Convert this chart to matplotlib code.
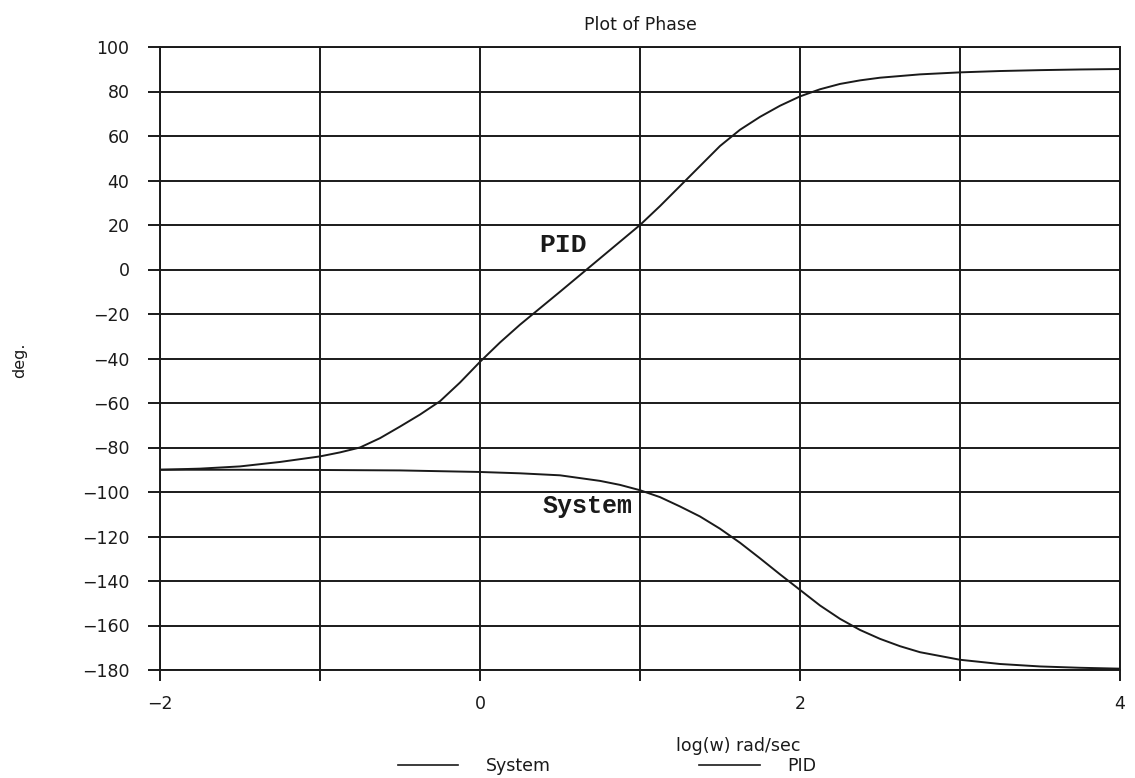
import matplotlib
matplotlib.use("Agg")
import matplotlib.pyplot as plt
from matplotlib.lines import Line2D

# PID phase (log(w), degrees)
pid_x = [-2, -1.75, -1.5, -1.25, -1, -0.875, -0.75, -0.625, -0.5, -0.375,
         -0.25, -0.125, 0, 0.125, 0.25, 0.5, 0.75, 1, 1.125, 1.25, 1.375,
         1.5, 1.625, 1.75, 1.875, 2, 2.125, 2.25, 2.375, 2.5, 2.75, 3, 3.25,
         3.5, 3.75, 4]
pid_phase = [-90, -89.5, -88.5, -86.5, -84, -82.2, -80, -75.8, -70.6, -65.2,
             -59.2, -50.8, -41.5, -32.8, -24.8, -10, 5, 20, 28.5, 37.5, 46.5,
             55.5, 62.8, 68.6, 73.6, 77.8, 81, 83.4, 85, 86.2, 87.7, 88.6,
             89.2, 89.6, 89.9, 90.1]

# System phase
sys_x = [-2, -1.5, -1, -0.5, 0, 0.25, 0.5, 0.75, 0.875, 1, 1.125, 1.25,
         1.375, 1.5, 1.625, 1.75, 1.875, 2, 2.125, 2.25, 2.375, 2.5, 2.625,
         2.75, 3, 3.25, 3.5, 3.75, 4]
system_phase = [-90, -90, -90.1, -90.3, -91, -91.6, -92.5, -95, -96.8, -99.2,
                -102.3, -106.5, -111, -116.5, -122.8, -129.8, -137, -144,
                -151, -157, -162, -166, -169.3, -172, -175.4, -177.3, -178.4,
                -179, -179.4]

x_ticks = [-2, -1, 0, 1, 2, 3, 4]
x_labels = ['\u22122', '', '0', '', '2', '', '4']
y_ticks = list(range(-180, 101, 20))

ink = '#1a1a1a'
fs = 12.5

fig = plt.figure(figsize=(11.35, 7.78), dpi=100)
ax = fig.add_axes([160 / 1135, 1 - 670 / 778, 960 / 1135, 623 / 778])

ax.plot(sys_x, system_phase, color=ink, lw=1.4)
ax.plot(pid_x, pid_phase, color=ink, lw=1.4)

ax.set_xlim(-2, 4)
ax.set_ylim(-180, 100)
ax.set_xticks(x_ticks)
ax.set_xticklabels(x_labels)
ax.set_yticks(y_ticks)
ax.set_yticklabels([str(v).replace('-', '\u2212') for v in y_ticks])
ax.grid(True, color=ink, lw=1.4)
for s in ax.spines.values():
    s.set_color(ink)
    s.set_linewidth(1.4)
ax.tick_params(axis='x', direction='out', length=8, width=1.4, pad=10,
               labelsize=fs, colors=ink)
ax.tick_params(axis='y', direction='out', length=9, width=1.4, pad=13,
               labelsize=fs, colors=ink)

# curve labels
ax.text(0.52, 11, 'PID', family='Liberation Mono', fontsize=19,
        fontweight='bold', color=ink, ha='center', va='center')
ax.text(0.67, -106.5, 'System', family='Liberation Mono', fontsize=18,
        fontweight='bold', color=ink, ha='center', va='center')

fig.text(640 / 1135, 1 - 25 / 778, 'Plot of Phase', ha='center', va='center',
         fontsize=fs, color=ink)
fig.text(20 / 1135, 1 - 360 / 778, 'deg.', ha='center', va='center',
         rotation=90, fontsize=fs - 1, color=ink)
fig.text(738 / 1135, 1 - 746 / 778, 'log(w) rad/sec', ha='center',
         va='center', fontsize=fs, color=ink)

handles = [Line2D([], [], color=ink, lw=1.2), Line2D([], [], color=ink, lw=1.2)]
fig.legend(handles, ['System', 'PID'], loc='center',
           bbox_to_anchor=(607 / 1135, 1 - 766 / 778), ncol=2, frameon=False,
           fontsize=fs, handlelength=3.5, handletextpad=1.6,
           columnspacing=8.5, labelcolor=ink)

fig.savefig('out.png', dpi=100, facecolor='white')
